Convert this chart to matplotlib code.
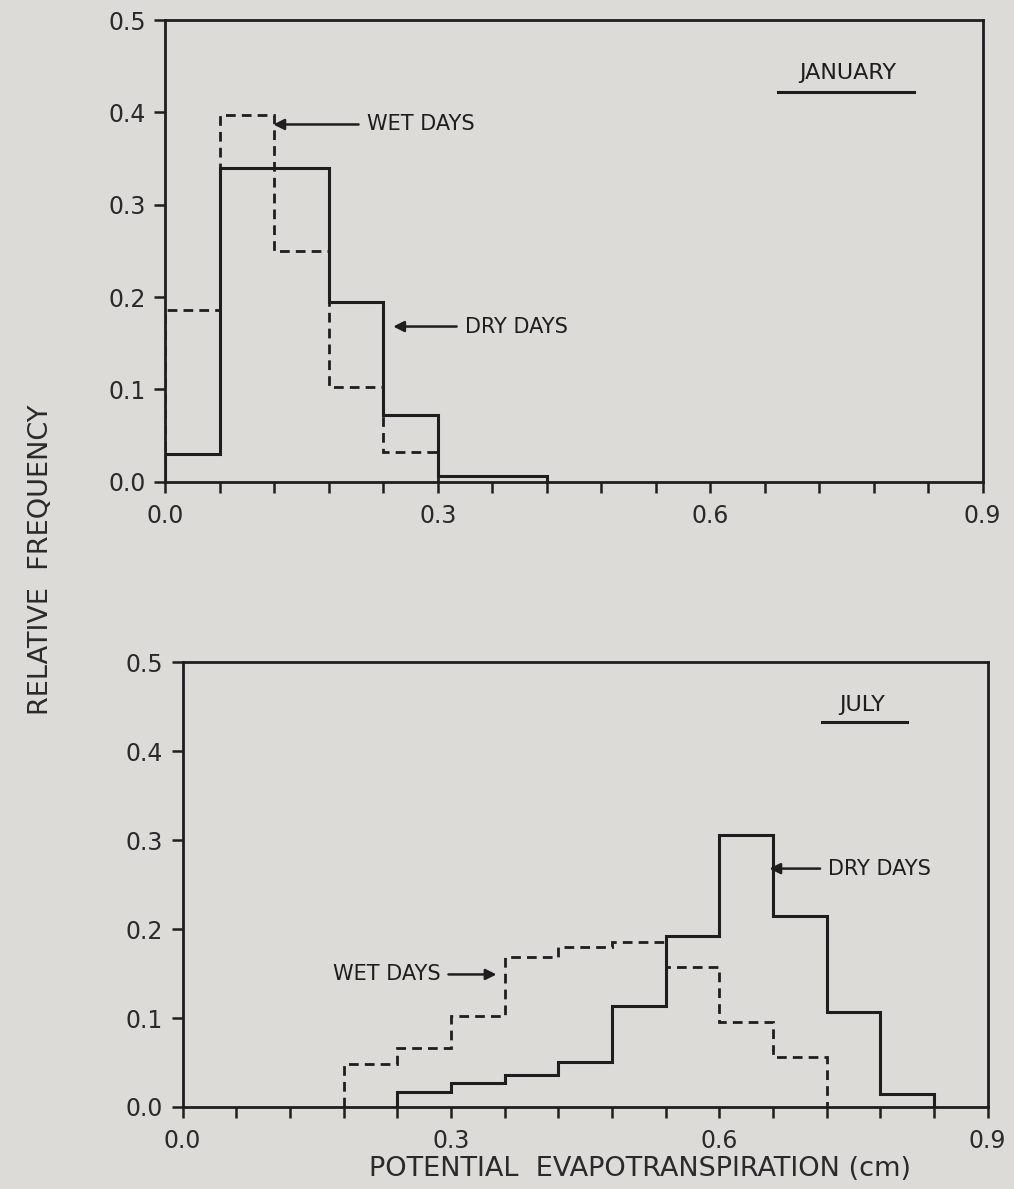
import numpy as np
import matplotlib
import matplotlib.pyplot as plt
from matplotlib.ticker import MultipleLocator, FixedLocator, FixedFormatter

matplotlib.use('Agg')

# bin width of the histograms (cm)
bin_width = 0.06

# January: relative frequency per 0.06 cm bin
jan_dry_start = 0.0
jan_dry = [0.03, 0.34, 0.34, 0.195, 0.072, 0.006, 0.006]
jan_wet_start = 0.0
jan_wet = [0.186, 0.397, 0.25, 0.102, 0.032]

# July
jul_dry_start = 0.24
jul_dry = [0.017, 0.027, 0.036, 0.051, 0.114, 0.192, 0.306, 0.215, 0.107, 0.015]
jul_wet_start = 0.18
jul_wet = [0.048, 0.066, 0.102, 0.169, 0.18, 0.185, 0.157, 0.096, 0.056]

x_labels = ['0.0', '0.3', '0.6', '0.9']
y_ticks = [0.0, 0.1, 0.2, 0.3, 0.4, 0.5]

ink = '#1e1e1e'
paper = '#dcdbd7'

plt.rcParams['font.family'] = ['DejaVu Sans']


def edges_for(start, vals):
    return start + bin_width * np.arange(len(vals) + 1)


def setup(ax):
    ax.set_facecolor(paper)
    ax.set_xlim(0, 0.9)
    ax.set_ylim(0, 0.5)
    for s in ax.spines.values():
        s.set_linewidth(2)
        s.set_color(ink)
    ax.xaxis.set_major_locator(FixedLocator([0.0, 0.3, 0.6, 0.9]))
    ax.xaxis.set_major_formatter(FixedFormatter(x_labels))
    ax.xaxis.set_minor_locator(MultipleLocator(bin_width))
    ax.set_yticks(y_ticks)
    ax.set_yticklabels(['%.1f' % v for v in y_ticks])
    ax.tick_params(which='both', direction='out', length=8, width=1.8,
                   color=ink, labelcolor='#2a2a2a', labelsize=17, pad=6)
    ax.tick_params(axis='x', which='major', pad=8)


def hist_pair(ax, dry_start, dry, wet_start, wet):
    ax.stairs(dry, edges_for(dry_start, dry), baseline=0, color=ink, lw=2.2)
    ax.stairs(wet, edges_for(wet_start, wet), baseline=0, color=ink, lw=2,
              linestyle=(0, (3.5, 2.2)))


def label(ax, text, xy, xytext):
    ax.annotate(text, xy=xy, xytext=xytext, fontsize=15, color=ink,
                va='center', ha='left' if xytext[0] > xy[0] else 'right',
                arrowprops=dict(arrowstyle='-|>', color=ink, lw=1.8,
                                mutation_scale=16, shrinkA=4, shrinkB=0))


fig = plt.figure(figsize=(10.14, 11.89), dpi=100)
fig.patch.set_facecolor(paper)

ax1 = fig.add_axes([0.163, 0.595, 0.806, 0.388])
setup(ax1)
hist_pair(ax1, jan_dry_start, jan_dry, jan_wet_start, jan_wet)
label(ax1, 'WET DAYS', (0.119, 0.387), (0.222, 0.387))
label(ax1, 'DRY DAYS', (0.251, 0.168), (0.33, 0.168))
ax1.text(0.751, 0.443, 'JANUARY', fontsize=16, ha='center', va='center', color=ink)
ax1.plot([0.675, 0.825], [0.422, 0.422], color=ink, lw=2.2)

ax2 = fig.add_axes([0.180, 0.069, 0.794, 0.374])
setup(ax2)
hist_pair(ax2, jul_dry_start, jul_dry, jul_wet_start, jul_wet)
label(ax2, 'DRY DAYS', (0.656, 0.268), (0.722, 0.268))
label(ax2, 'WET DAYS', (0.351, 0.149), (0.288, 0.149))
ax2.text(0.76, 0.452, 'JULY', fontsize=16, ha='center', va='center', color=ink)
ax2.plot([0.715, 0.81], [0.433, 0.433], color=ink, lw=2.2)

fig.text(0.04, 0.529, 'RELATIVE  FREQUENCY', rotation=90, fontsize=19.5,
         ha='center', va='center', color='#2a2a2a')
fig.text(0.631, 0.017, 'POTENTIAL  EVAPOTRANSPIRATION (cm)', fontsize=19.5,
         ha='center', va='center', color='#2a2a2a')

fig.savefig('out.png', dpi=100, facecolor=paper)
